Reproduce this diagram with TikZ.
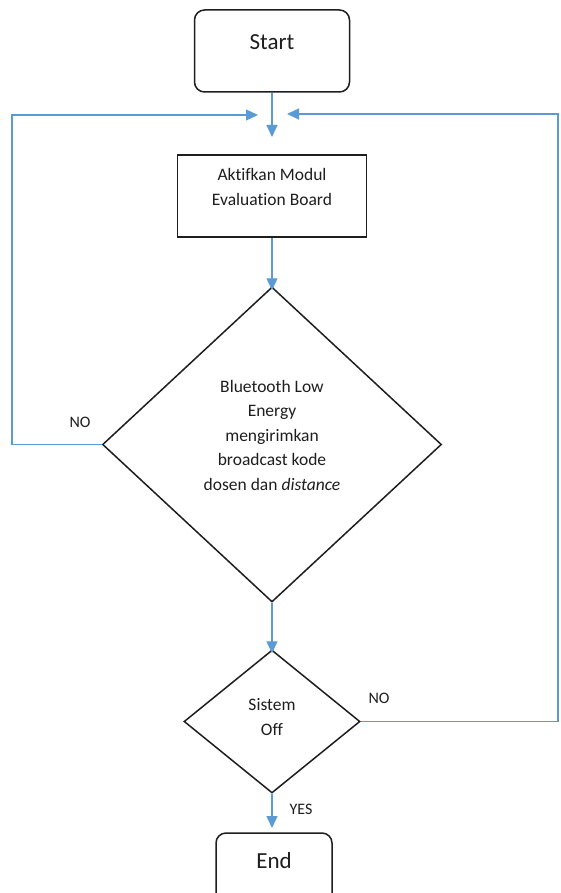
\documentclass[tikz,border=0pt]{standalone}
\usepackage{fontspec}
\setmainfont{Carlito}[Ligatures=NoCommon]
\usetikzlibrary{arrows.meta,shapes.geometric}
\definecolor{conn}{HTML}{5B9BD5}
\definecolor{ink}{HTML}{1E1E1E}
\tikzset{
  boxshape/.style={draw=ink,line width=1.5pt,inner sep=0pt},
  termshape/.style={boxshape,rectangle,rounded corners=10pt},
  decshape/.style={boxshape,diamond},
  body/.style={text=ink,font=\fontsize{17.5}{24.5}\selectfont,align=center,inner sep=0pt},
  big/.style={text=ink,font=\fontsize{23}{28}\selectfont,inner sep=0pt},
  lbl/.style={text=ink,font=\fontsize{16}{20}\selectfont,inner sep=0pt},
  conn/.style={draw=conn,line width=1.3pt,-{Triangle[length=12pt,width=11pt]}},
}
\begin{document}
\begin{tikzpicture}[x=1pt,y=-1pt]
\useasboundingbox (0,0) rectangle (560,893);
\clip (0,0) rectangle (560,893);
\fill[white] (0,0) rectangle (560,893);
% shapes
\node[termshape,minimum width=155pt,minimum height=82pt] (start) at (272,51) {};
\node[big] (starttxt) at (272,42) {Start};
\node[boxshape,rectangle,minimum width=189pt,minimum height=82pt] (proc) at (272,196) {};
\node[body] (proctxt) at (272,187) {Aktifkan Modul\\Evaluation Board};
\node[decshape,minimum width=339pt,minimum height=315pt] (d1) at (272,444.5) {};
\node[body] (d1txt) at (272,435) {Bluetooth Low\\Energy\\mengirimkan\\broadcast kode\\dosen dan \textit{distance}};
\node[decshape,minimum width=176pt,minimum height=143pt] (d2) at (272,721.5) {};
\node[body] (d2txt) at (272,717) {Sistem\\Off};
\node[termshape,minimum width=116pt,minimum height=80pt] (endn) at (274,873) {};
\node[big] (endtxt) at (274,861) {End};
% coordinates
\coordinate (merge) at (272,137);
\coordinate (lt) at (258,115);
\coordinate (rt) at (287,114);
\coordinate (lc) at (12,444.5);
\coordinate (rc) at (558,721.5);
\coordinate (endtop) at (272,828);
% connectors
\draw[conn] (start.south) -- (merge);
\draw[conn] (proc.south) -- ([yshift=-4pt]d1.north);
\draw[conn] (d1.south) -- ([yshift=-4pt]d2.north);
\draw[conn] (d2.south) -- (endtop);
\draw[conn] (d1.west) -- (lc) |- (lt);
\draw[conn] (d2.east) -- (rc) |- (rt);
% labels
\node[lbl] (no1) at (80,422) {NO};
\node[lbl] (no2) at (379,698) {NO};
\node[lbl] (yes) at (301,809) {YES};
\end{tikzpicture}
\end{document}
